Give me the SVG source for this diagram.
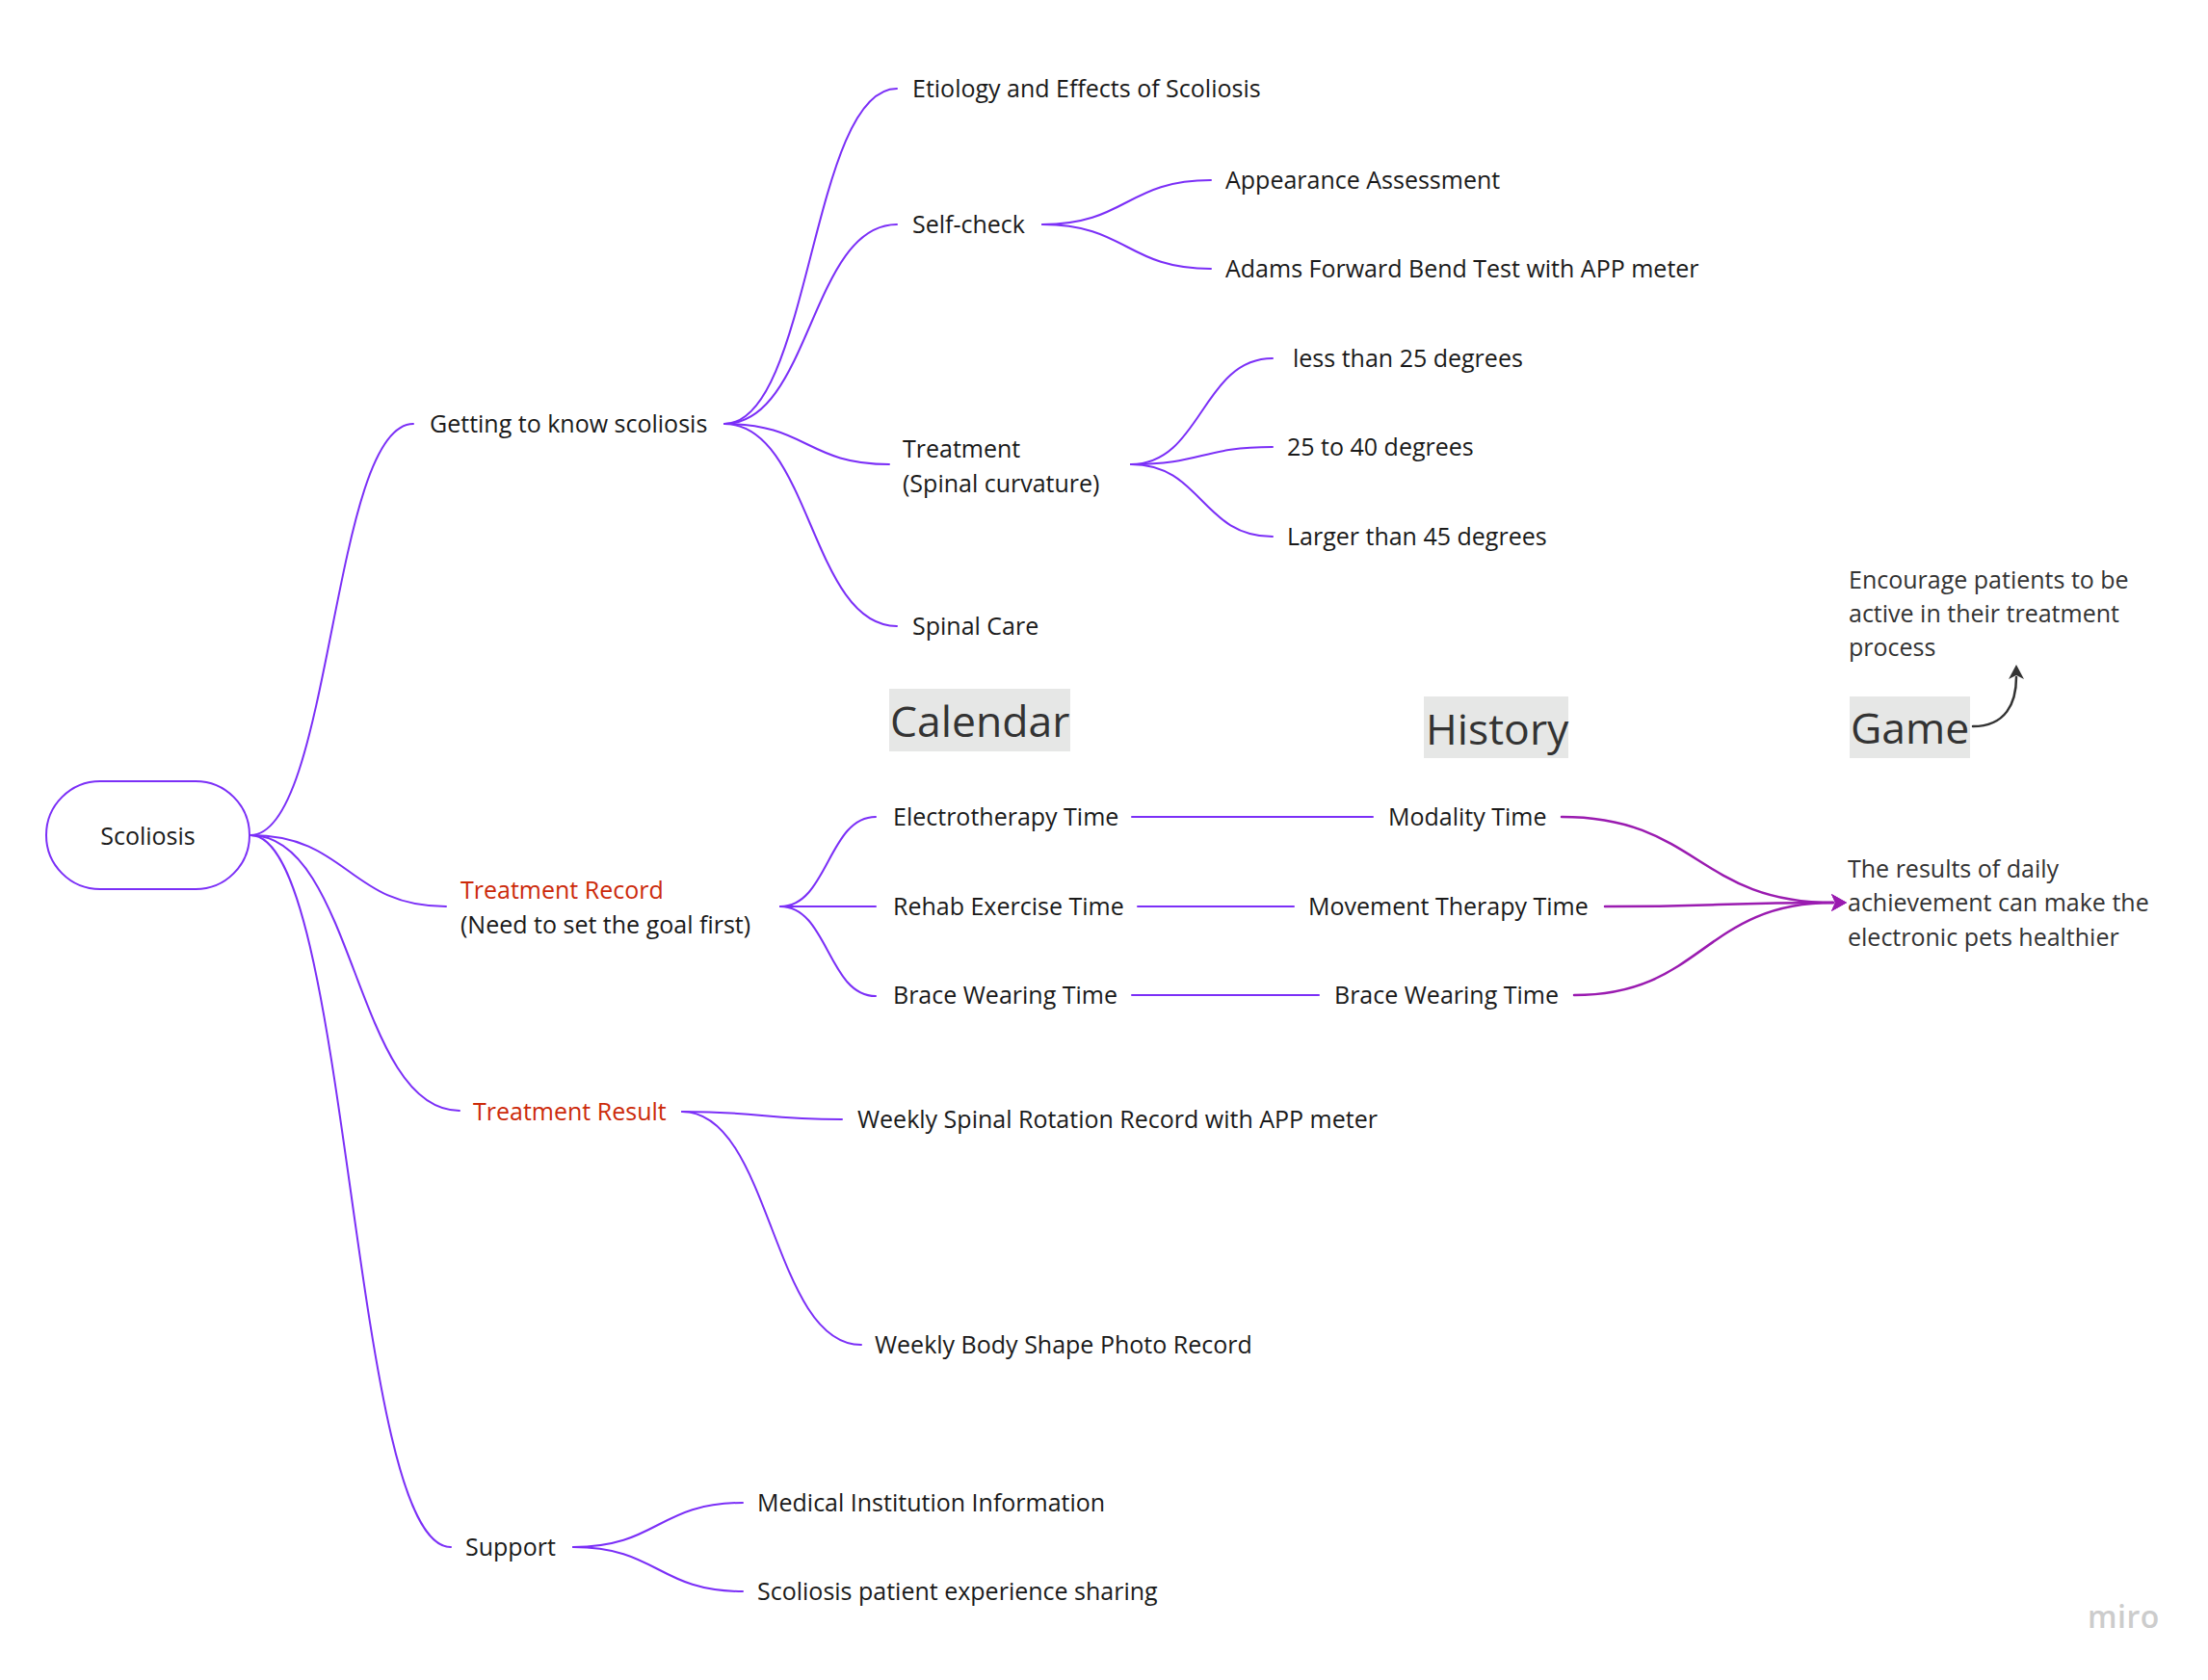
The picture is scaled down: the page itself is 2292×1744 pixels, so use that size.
<svg xmlns="http://www.w3.org/2000/svg" width="2292" height="1744" viewBox="0 0 2292 1744">
<style>
.t{font-family:"Open Sans","Liberation Sans",sans-serif;font-size:25px;fill:#1a1a1a}
.r{fill:#cc2a0a}
.g{fill:#333333}
.big{font-family:"Open Sans","Liberation Sans",sans-serif;font-size:44.5px;fill:#333333}
.box{fill:#e6e7e6}
.c{fill:none;stroke:#7b2ff7;stroke-width:2;stroke-linecap:round}
.m{fill:none;stroke:#9a1bb0;stroke-width:2.5;stroke-linecap:round}
.k{fill:none;stroke:#333333;stroke-width:2.5;stroke-linecap:round}
</style>
<defs>
<marker id="ahm" markerUnits="userSpaceOnUse" markerWidth="20" markerHeight="20" viewBox="0 0 20 20" refX="2" refY="10" orient="auto"><path d="M0,1 L16,10 L0,19 L4,10 Z" fill="#9a1bb0"/></marker>
<marker id="ahk" markerUnits="userSpaceOnUse" markerWidth="20" markerHeight="20" viewBox="0 0 20 20" refX="2" refY="10" orient="auto"><path d="M0,2 L15,10 L0,18 L4,10 Z" fill="#333333"/></marker>
</defs>
<rect width="2292" height="1744" fill="#ffffff"/>
<g id="connectors">
<path class="c" d="M260,867 C344.5,867 344.5,440 429,440"/>
<path class="c" d="M260,867 C361.5,867 361.5,941 463,941"/>
<path class="c" d="M260,867 C368.5,867 368.5,1153 477,1153"/>
<path class="c" d="M260,867 C364,867 364,1606 468,1606"/>
<path class="c" d="M752,440 C841.5,440 841.5,92 931,92"/>
<path class="c" d="M752,440 C841.5,440 841.5,233 931,233"/>
<path class="c" d="M752,440 C837.5,440 837.5,482 923,482"/>
<path class="c" d="M752,440 C841.5,440 841.5,650 931,650"/>
<path class="c" d="M1082,233 C1169.5,233 1169.5,187 1257,187"/>
<path class="c" d="M1082,233 C1169.5,233 1169.5,279 1257,279"/>
<path class="c" d="M1174,482 C1247.5,482 1247.5,372 1321,372"/>
<path class="c" d="M1174,482 C1247.5,482 1247.5,464 1321,464"/>
<path class="c" d="M1174,482 C1247.5,482 1247.5,557 1321,557"/>
<path class="c" d="M810,941 C859.5,941 859.5,848 909,848"/>
<path class="c" d="M810,941 L909,941"/>
<path class="c" d="M810,941 C859.5,941 859.5,1034 909,1034"/>
<path class="c" d="M708,1154 C791,1154 791,1162 874,1162"/>
<path class="c" d="M708,1154 C801,1154 801,1396 894,1396"/>
<path class="c" d="M595,1606 C683,1606 683,1560 771,1560"/>
<path class="c" d="M595,1606 C683,1606 683,1652 771,1652"/>
<path class="c" d="M1175,848 L1425,848"/>
<path class="c" d="M1181,941 L1343,941"/>
<path class="c" d="M1175,1033 L1369,1033"/>
<path class="m" d="M1621,848 C1762,848 1762,937 1903,937" marker-end="url(#ahm)"/>
<path class="m" d="M1666,941 C1784,941 1784,937 1903,937" marker-end="url(#ahm)"/>
<path class="m" d="M1634,1033 C1768,1033 1768,937 1903,937" marker-end="url(#ahm)"/>
<path class="k" d="M2048,754 C2082,754 2093,730 2093,703" marker-end="url(#ahk)"/>
</g>
<g id="scoliosis">
<rect x="48" y="811" width="211" height="112" rx="56" ry="56" fill="#ffffff" stroke="#7b2ff7" stroke-width="2"/>
<text class="t" x="153.5" y="877" text-anchor="middle">Scoliosis</text>
</g>
<g id="getting"><text class="t" x="446" y="449">Getting to know scoliosis</text></g>
<g id="etiology"><text class="t" x="947" y="101">Etiology and Effects of Scoliosis</text></g>
<g id="selfcheck"><text class="t" x="947" y="242">Self-check</text></g>
<g id="appearance"><text class="t" x="1272" y="196">Appearance Assessment</text></g>
<g id="adams"><text class="t" x="1272" y="288">Adams Forward Bend Test with APP meter</text></g>
<g id="treatment"><text class="t" x="937" y="475">Treatment<tspan x="937" y="511">(Spinal curvature)</tspan></text></g>
<g id="less25"><text class="t" x="1342" y="381">less than 25 degrees</text></g>
<g id="deg25to40"><text class="t" x="1336" y="473">25 to 40 degrees</text></g>
<g id="larger45"><text class="t" x="1336" y="566">Larger than 45 degrees</text></g>
<g id="spinalcare"><text class="t" x="947" y="659">Spinal Care</text></g>
<g id="encourage"><text class="t g" x="1919" y="611">Encourage patients to be<tspan x="1919" y="646">active in their treatment</tspan><tspan x="1919" y="681">process</tspan></text></g>
<g id="calendar"><rect class="box" x="923" y="715" width="188" height="65"/><text class="big" x="924" y="765">Calendar</text></g>
<g id="history"><rect class="box" x="1478" y="723" width="150" height="64"/><text class="big" x="1480" y="773">History</text></g>
<g id="game"><rect class="box" x="1920" y="723" width="125" height="64"/><text class="big" x="1921" y="772">Game</text></g>
<g id="treatmentrecord"><text class="t" x="478" y="933"><tspan class="r">Treatment Record</tspan><tspan x="478" y="969">(Need to set the goal first)</tspan></text></g>
<g id="electrotherapy"><text class="t" x="927" y="857">Electrotherapy Time</text></g>
<g id="rehab"><text class="t" x="927" y="950">Rehab Exercise Time</text></g>
<g id="brace1"><text class="t" x="927" y="1042">Brace Wearing Time</text></g>
<g id="modality"><text class="t" x="1441" y="857">Modality Time</text></g>
<g id="movement"><text class="t" x="1358" y="950">Movement Therapy Time</text></g>
<g id="brace2"><text class="t" x="1385" y="1042">Brace Wearing Time</text></g>
<g id="results"><text class="t g" x="1918" y="911">The results of daily<tspan x="1918" y="946">achievement can make the</tspan><tspan x="1918" y="982">electronic pets healthier</tspan></text></g>
<g id="treatmentresult"><text class="t r" x="491" y="1163">Treatment Result</text></g>
<g id="weeklyspinal"><text class="t" x="890" y="1171">Weekly Spinal Rotation Record with APP meter</text></g>
<g id="weeklybody"><text class="t" x="908" y="1405">Weekly Body Shape Photo Record</text></g>
<g id="support"><text class="t" x="483" y="1615">Support</text></g>
<g id="medical"><text class="t" x="786" y="1569">Medical Institution Information</text></g>
<g id="sharing"><text class="t" x="786" y="1661">Scoliosis patient experience sharing</text></g>
<text x="2167" y="1690" font-family="Open Sans, Liberation Sans, sans-serif" font-size="32" font-weight="600" fill="#cccccc" letter-spacing="0.5">miro</text>
</svg>
